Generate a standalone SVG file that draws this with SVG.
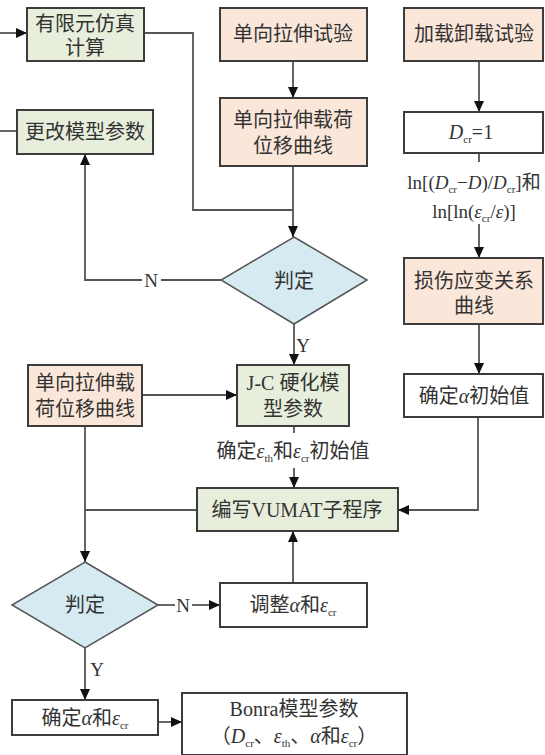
<svg xmlns="http://www.w3.org/2000/svg" width="545" height="755" viewBox="0 0 545 755">
<defs>
<marker id="ah" markerUnits="userSpaceOnUse" markerWidth="11" markerHeight="10" refX="11" refY="5" orient="auto">
<path d="M0,0 L11,5 L0,10 z" fill="#111"/>
</marker>
<style>
.box{stroke:#3c3c3c;stroke-width:2}
.g{fill:#e7eedb}
.p{fill:#fbe7da}
.w{fill:#ffffff}
.d{fill:#d6eaf2;stroke:#555;stroke-width:1.5}
.ln{fill:none;stroke:#555;stroke-width:1.8}
.ar{fill:none;stroke:#555;stroke-width:1.8;marker-end:url(#ah)}
text{font-family:"Liberation Serif","Noto Sans CJK SC",serif;font-size:20px;fill:#333;text-anchor:middle}
.i{font-style:italic}
.s{font-size:11px}
.lb{font-size:19px}
</style>
</defs>
<rect width="545" height="755" fill="#ffffff"/>
<g id="connectors">
<line class="ar" x1="0" y1="33" x2="27" y2="33"/>
<polyline class="ln" points="144,33 193,33 193,210 293,210"/>
<line class="ar" x1="293" y1="61" x2="293" y2="98"/>
<line class="ar" x1="293" y1="166" x2="293" y2="237"/>
<polyline class="ar" points="221,280 85,280 85,154"/>
<line class="ln" x1="0" y1="131" x2="17" y2="131"/>
<line class="ar" x1="294" y1="324" x2="294" y2="365"/>
<line class="ar" x1="142" y1="395" x2="237" y2="395"/>
<line class="ar" x1="85" y1="426" x2="85" y2="562"/>
<line class="ln" x1="197" y1="510" x2="85" y2="510"/>
<line class="ln" x1="294" y1="426" x2="294" y2="433"/>
<line class="ar" x1="294" y1="468" x2="294" y2="488"/>
<polyline class="ar" points="478,417 478,510 398,510"/>
<line class="ar" x1="479" y1="61" x2="479" y2="112"/>
<line class="ln" x1="479" y1="153" x2="479" y2="162"/>
<line class="ar" x1="479" y1="224" x2="479" y2="258"/>
<line class="ar" x1="479" y1="324" x2="479" y2="374"/>
<line class="ln" x1="158" y1="605" x2="175" y2="605"/>
<line class="ar" x1="192" y1="605" x2="220" y2="605"/>
<line class="ar" x1="293" y1="583" x2="293" y2="531"/>
<line class="ar" x1="85" y1="648" x2="85" y2="700"/>
<line class="ar" x1="158" y1="722" x2="182" y2="722"/>
<rect x="142" y="268" width="19" height="24" fill="#ffffff"/>
<text x="151" y="287" class="lb">N</text>
<text x="303" y="352" class="lb">Y</text>
<text x="183" y="612" class="lb">N</text>
<text x="97" y="676" class="lb">Y</text>
</g>
<g id="n1"><rect class="box g" x="27" y="8" width="117" height="53"/><text x="85" y="31">有限元仿真</text><text x="85" y="55">计算</text></g>
<g id="n2"><rect class="box p" x="220" y="8" width="147" height="53"/><text x="293" y="41">单向拉伸试验</text></g>
<g id="n3"><rect class="box p" x="404" y="8" width="139" height="53"/><text x="474" y="41">加载卸载试验</text></g>
<g id="n4"><rect class="box g" x="17" y="110" width="136" height="44"/><text x="85" y="139">更改模型参数</text></g>
<g id="n5"><rect class="box p" x="220" y="98" width="147" height="68"/><text x="293" y="127">单向拉伸载荷</text><text x="293" y="153">位移曲线</text></g>
<g id="n6"><rect class="box w" x="404" y="112" width="139" height="41"/><text x="471" y="139"><tspan class="i">D</tspan><tspan class="s" dy="4">cr</tspan><tspan dy="-4">=1</tspan></text></g>
<g id="t1"><text x="474" y="189" style="font-size:19px">ln[(<tspan class="i">D</tspan><tspan class="s" dy="4">cr</tspan><tspan dy="-4">−</tspan><tspan class="i">D</tspan>)/<tspan class="i">D</tspan><tspan class="s" dy="4">cr</tspan><tspan dy="-4">]和</tspan></text>
<text x="474" y="218" style="font-size:19px">ln[ln(<tspan class="i">ε</tspan><tspan class="s" dy="4">cr</tspan><tspan dy="-4">/</tspan><tspan class="i">ε</tspan>)]</text></g>
<g id="n7"><polygon class="d" points="294,237 367,280 294,324 221,280"/><text x="294" y="288">判定</text></g>
<g id="n8"><rect class="box p" x="404" y="258" width="139" height="66"/><text x="474" y="288">损伤应变关系</text><text x="474" y="313">曲线</text></g>
<g id="n9"><rect class="box p" x="28" y="365" width="114" height="61"/><text x="85" y="390">单向拉伸载</text><text x="85" y="416">荷位移曲线</text></g>
<g id="n10"><rect class="box g" x="237" y="365" width="112" height="61"/><text x="293" y="390">J-C 硬化模</text><text x="293" y="416">型参数</text></g>
<g id="n11"><rect class="box w" x="404" y="374" width="139" height="43"/><text x="474" y="403">确定<tspan class="i">α</tspan>初始值</text></g>
<g id="t2"><text x="293" y="458">确定<tspan class="i">ε</tspan><tspan class="s" dy="4">th</tspan><tspan dy="-4">和</tspan><tspan class="i">ε</tspan><tspan class="s" dy="4">cr</tspan><tspan dy="-4">初始值</tspan></text></g>
<g id="n12"><rect class="box g" x="197" y="488" width="201" height="43"/><text x="297" y="517">编写VUMAT子程序</text></g>
<g id="n13"><polygon class="d" points="85,562 158,605 85,648 12,605"/><text x="85" y="612">判定</text></g>
<g id="n14"><rect class="box w" x="220" y="583" width="147" height="44"/><text x="293" y="612">调整<tspan class="i">α</tspan>和<tspan class="i">ε</tspan><tspan class="s" dy="4">cr</tspan></text></g>
<g id="n15"><rect class="box w" x="12" y="700" width="146" height="35"/><text x="85" y="725">确定<tspan class="i">α</tspan>和<tspan class="i">ε</tspan><tspan class="s" dy="4">cr</tspan></text></g>
<g id="n16"><rect class="box w" x="182" y="693" width="225" height="62"/><text x="294" y="716">Bonra模型参数</text><text x="294" y="743">（<tspan class="i">D</tspan><tspan class="s" dy="4">cr</tspan><tspan dy="-4">、</tspan><tspan class="i">ε</tspan><tspan class="s" dy="4">th</tspan><tspan dy="-4">、</tspan><tspan class="i">α</tspan>和<tspan class="i">ε</tspan><tspan class="s" dy="4">cr</tspan><tspan dy="-4">）</tspan></text></g>
</svg>
